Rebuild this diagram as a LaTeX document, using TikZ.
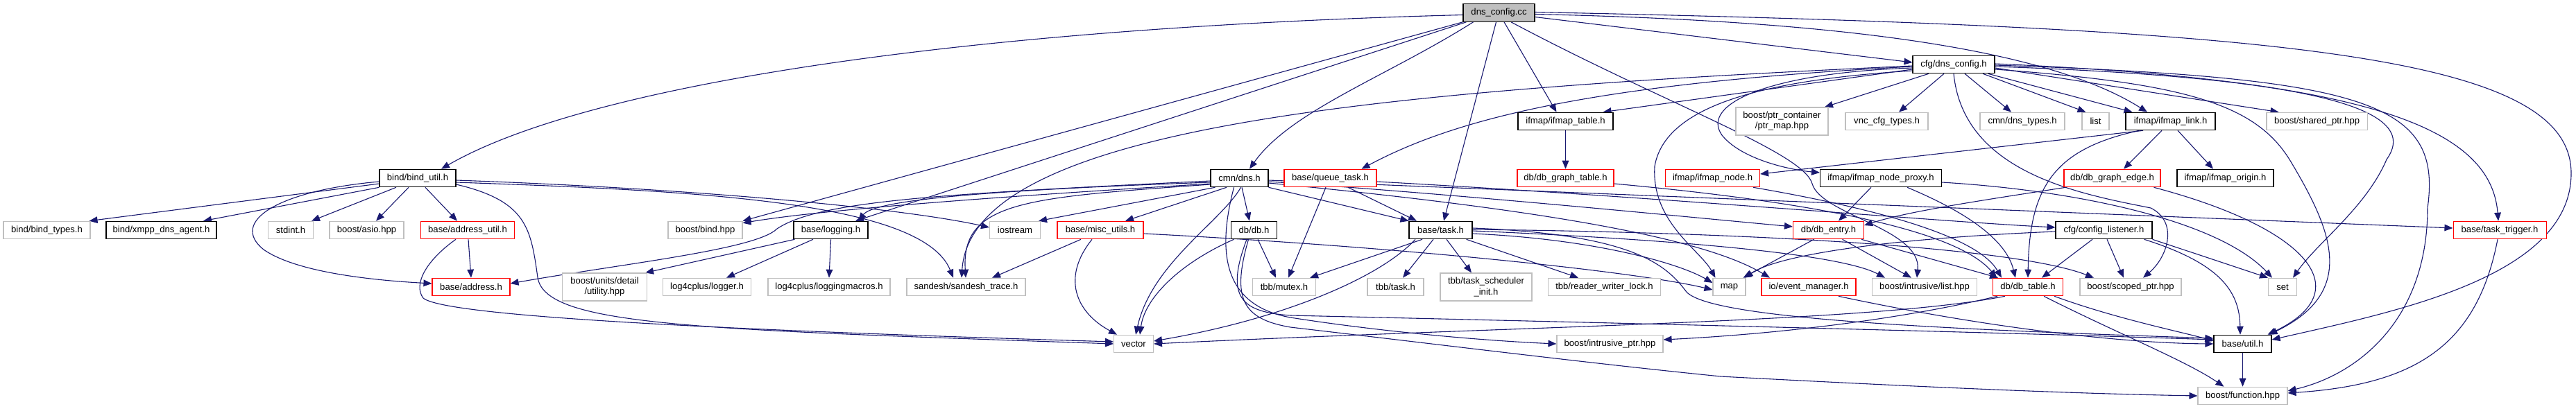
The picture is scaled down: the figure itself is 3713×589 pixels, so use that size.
\documentclass[tikz,border=0pt]{standalone}
\usepackage{fontspec}
\setmainfont{Liberation Sans}
\usetikzlibrary{arrows.meta,calc,backgrounds}
\definecolor{edgecol}{HTML}{191970}
\definecolor{graybd}{HTML}{BFBFBF}
\definecolor{rootfill}{HTML}{BFBFBF}
\tikzset{
  nd/.style={rectangle, inner sep=0pt, minimum height=12.75pt, font=\fontsize{6.55}{7.6}\selectfont, align=center, fill=white, line width=0.55pt},
  gb/.style={nd, draw=graybd},
  bb/.style={nd, draw=black},
  rb/.style={nd, draw=red},
  tw/.style={minimum height=20pt},
  edg/.style={draw=edgecol, line width=0.55pt, -{Triangle[length=6pt,width=4.8pt]}},
}
\begin{document}
\begin{tikzpicture}[x=0.5pt,y=-0.5pt]
\useasboundingbox (0,0) rectangle (3713,589);
% row 0
\node[bb, fill=rootfill, minimum width=51.5pt] (root) at (2160.5,18.5) {dns\_config.cc};
% row 1
\node[bb, minimum width=59pt] (cfgdns) at (2816,93) {cfg/dns\_config.h};
% row 2
\node[bb, minimum width=68.5pt] (ifmaptable) at (2256.5,175) {ifmap/ifmap\_table.h};
\node[gb, tw, minimum width=66.5pt] (ptrmap) at (2568.5,175) {boost/ptr\_container\\/ptr\_map.hpp};
\node[gb, minimum width=59.5pt] (vnccfg) at (2719.5,175) {vnc\_cfg\_types.h};
\node[gb, minimum width=61pt] (dnstypes) at (2915,175) {cmn/dns\_types.h};
\node[gb, minimum width=19.5pt] (list) at (3020.5,175) {list};
\node[bb, minimum width=64.5pt] (ifmaplink) at (3128.5,175) {ifmap/ifmap\_link.h};
\node[gb, minimum width=72.5pt] (sharedptr) at (3339.5,175) {boost/shared\_ptr.hpp};
% row 3
\node[bb, minimum width=55pt] (bindutil) at (602,257) {bind/bind\_util.h};
\node[bb, minimum width=41.5pt] (cmndns) at (1786.5,257) {cmn/dns.h};
\node[rb, minimum width=66.5pt] (queuetask) at (1917.5,257) {base/queue\_task.h};
\node[rb, minimum width=69.5pt] (dbgraphtable) at (2256.5,257) {db/db\_graph\_table.h};
\node[rb, minimum width=68pt] (ifmapnode) at (2468.5,257) {ifmap/ifmap\_node.h};
\node[bb, minimum width=87.5pt] (nodeproxy) at (2711,257) {ifmap/ifmap\_node\_proxy.h};
\node[rb, minimum width=69.5pt] (dbgraphedge) at (3044.5,257) {db/db\_graph\_edge.h};
\node[bb, minimum width=69.5pt] (ifmaporigin) at (3207.5,257) {ifmap/ifmap\_origin.h};
% row 4
\node[gb, minimum width=62.5pt] (bindtypes) at (67.5,332) {bind/bind\_types.h};
\node[bb, minimum width=79.5pt] (xmpp) at (232.5,332) {bind/xmpp\_dns\_agent.h};
\node[gb, minimum width=32.5pt] (stdint) at (419,332) {stdint.h};
\node[gb, minimum width=53.5pt] (asio) at (528.5,332) {boost/asio.hpp};
\node[rb, minimum width=67.5pt] (addrutil) at (674,332) {base/address\_util.h};
\node[gb, minimum width=53.5pt] (bindhpp) at (1016.5,332) {boost/bind.hpp};
\node[bb, minimum width=53.5pt] (logging) at (1197.5,332) {base/logging.h};
\node[gb, minimum width=36.5pt] (iostream) at (1463,332) {iostream};
\node[rb, minimum width=62pt] (miscutils) at (1586,332) {base/misc\_utils.h};
\node[bb, minimum width=33pt] (dbdb) at (1807.5,332) {db/db.h};
\node[bb, minimum width=45.5pt] (task) at (2076.5,332) {base/task.h};
\node[rb, minimum width=51pt] (dbentry) at (2635.5,332) {db/db\_entry.h};
\node[bb, minimum width=69.5pt] (configlistener) at (3032.5,332) {cfg/config\_listener.h};
\node[rb, minimum width=67pt] (tasktrigger) at (3603,332) {base/task\_trigger.h};
% row 5
\node[rb, minimum width=56pt] (address) at (679,414) {base/address.h};
\node[gb, tw, minimum width=61pt] (unitsutil) at (871.5,414) {boost/units/detail\\/utility.hpp};
\node[gb, minimum width=63.5pt] (logger) at (1019,414) {log4cplus/logger.h};
\node[gb, minimum width=88pt] (loggingmacros) at (1195,414) {log4cplus/loggingmacros.h};
\node[gb, minimum width=85.5pt] (sandesh) at (1392.5,414) {sandesh/sandesh\_trace.h};
\node[gb, minimum width=45.5pt] (tbbmutex) at (1851,414) {tbb/mutex.h};
\node[gb, minimum width=40.5pt] (tbbtask) at (2011.5,414) {tbb/task.h};
\node[gb, tw, minimum width=66pt] (tbbsched) at (2142,414) {tbb/task\_scheduler\\\_init.h};
\node[gb, minimum width=81pt] (rwlock) at (2312.5,414) {tbb/reader\_writer\_lock.h};
\node[gb, minimum width=23.5pt] (map) at (2492.5,414) {map};
\node[rb, minimum width=68pt] (eventmgr) at (2607,414) {io/event\_manager.h};
\node[gb, minimum width=75.5pt] (intrlist) at (2774,414) {boost/intrusive/list.hpp};
\node[rb, minimum width=50.5pt] (dbtable) at (2923,414) {db/db\_table.h};
\node[gb, minimum width=73pt] (scopedptr) at (3071,414) {boost/scoped\_ptr.hpp};
\node[gb, minimum width=20.5pt] (set) at (3290,414) {set};
% row 6
\node[gb, minimum width=28.5pt] (vector) at (1634,496) {vector};
\node[gb, minimum width=76.5pt] (intrptr) at (2320.5,496) {boost/intrusive\_ptr.hpp};
\node[bb, minimum width=41.5pt] (util) at (3232.5,496) {base/util.h};
% row 7
\node[gb, minimum width=64.5pt] (function) at (3232.5,571) {boost/function.hpp};

\begin{scope}[on background layer]
\fill[white] (0,0) rectangle (3713,589);
% dns_config.cc
\draw[edg] ($(root.west)+(0,3)$) .. controls (1400,40) and (850,120) .. ($(bindutil.north)+(34,0)$);
\draw[edg] (root.south west) -- (bindhpp.north east);
\draw[edg] ($(root.south west)+(5,0)$) -- ($(logging.north)+(35.5,0)$);
\draw[edg] ($(root.south)+(-37,0)$) .. controls (2000,110) and (1860,160) .. ($(cmndns.north)+(14.5,0)$);
\draw[edg] ($(root.south)+(-4,0)$) -- ($(task.north)+(4.5,0)$);
\draw[edg] ($(root.south)+(7.5,0)$) -- ($(ifmaptable.north)+(-13,0)$);
\draw[edg] ($(root.south)+(17.5,0)$) .. controls (2400,150) and (2600,220) .. (2612,265) .. controls (2625,310) and (2770,330) .. ($(intrlist.north)+(-11,0)$);
\draw[edg] ($(root.east)+(0,6)$) -- ($(cfgdns.west)+(0,-3)$);
\draw[edg] ($(root.east)+(0,2)$) .. controls (2650,30) and (2950,70) .. ($(ifmaplink.north)+(-33.5,0)$);
\draw[edg] ($(root.east)+(0,-1)$) .. controls (3300,40) and (3706,80) .. (3706,250) .. controls (3706,400) and (3450,450) .. ($(util.east)+(0,-6)$);
% cfg/dns_config.h
\draw[edg] ($(cfgdns.south)+(-36,0)$) -- ($(ptrmap.north)+(61.5,0)$);
\draw[edg] ($(cfgdns.south)+(-14,0)$) -- ($(vnccfg.north)+(17.5,0)$);
\draw[edg] ($(cfgdns.south)+(16,0)$) -- ($(dnstypes.north)+(-16,0)$);
\draw[edg] ($(cfgdns.south)+(42,0)$) -- ($(list.north)+(-14,0)$);
\draw[edg] ($(cfgdns.south east)+(-10,0)$) -- ($(ifmaplink.north)+(-55,0)$);
\draw[edg] ($(cfgdns.east)+(0,5)$) -- ($(sharedptr.north)+(-55,0)$);
\draw[edg] ($(cfgdns.west)+(0,7)$) -- ($(ifmaptable.north)+(54,0)$);
\draw[edg] ($(cfgdns.west)+(0,3)$) .. controls (2300,120) and (2100,170) .. ($(queuetask.north)+(45,0)$);
\draw[edg] ($(cfgdns.west)+(0,2)$) .. controls (2000,130) and (1400,180) .. ($(sandesh.north)+(-6.5,0)$);
\draw[edg] ($(cfgdns.west)+(0,5)$) .. controls (2550,105) and (2450,150) .. (2482,195) .. controls (2510,230) and (2580,245) .. ($(nodeproxy.west)+(0,-8)$);
\draw[edg] ($(cfgdns.west)+(0,9)$) .. controls (2550,115) and (2400,150) .. (2385,240) .. controls (2380,320) and (2450,360) .. ($(map.north)+(-20,0)$);
\draw[edg] (cfgdns.south) .. controls (2830,250) and (3000,280) .. (3100,300) .. controls (3140,320) and (3125,370) .. ($(scopedptr.north)+(18,0)$);
\draw[edg] ($(cfgdns.east)+(0,3)$) .. controls (3350,112) and (3490,160) .. (3440,230) .. controls (3410,300) and (3340,350) .. ($(set.north)+(15,0)$);
\draw[edg] ($(cfgdns.east)+(0,1)$) .. controls (3420,112) and (3520,150) .. (3499,300) .. controls (3499,460) and (3400,540) .. ($(function.east)+(0,-7)$);
\draw[edg] ($(cfgdns.east)+(0,-1)$) .. controls (3400,115) and (3590,180) .. ($(tasktrigger.north)+(-2,0)$);
\draw[edg] ($(cfgdns.east)+(0,7)$) .. controls (3150,120) and (3250,150) .. (3300,230) .. controls (3360,330) and (3400,420) .. ($(util.north)+(38,0)$);
% ifmap_link / ifmap_table
\draw[edg] ($(ifmaplink.south)+(-39.5,0)$) -- ($(ifmapnode.east)+(0,-6)$);
\draw[edg] ($(ifmaplink.south)+(-12.5,0)$) -- ($(dbgraphedge.north)+(16.5,0)$);
\draw[edg] ($(ifmaplink.south)+(10.5,0)$) -- ($(ifmaporigin.north)+(-17.5,0)$);
\draw[edg] ($(ifmaplink.south)+(-45,0)$) .. controls (2960,215) and (2925,270) .. (dbtable.north);
\draw[edg] (ifmaptable.south) -- (dbgraphtable.north);
\draw[edg] ($(dbgraphtable.east)+(0,8)$) .. controls (2600,290) and (2820,330) .. ($(dbtable.north)+(-45,0)$);
\draw[edg] ($(ifmapnode.south east)+(-10,0)$) .. controls (2700,300) and (2850,340) .. ($(dbtable.north)+(-38,0)$);
% node proxy, graph edge
\draw[edg] ($(nodeproxy.south)+(-14,0)$) -- ($(dbentry.north)+(14.5,0)$);
\draw[edg] ($(nodeproxy.south)+(38,0)$) .. controls (2820,300) and (2890,340) .. ($(dbtable.north)+(-18,0)$);
\draw[edg] ($(nodeproxy.east)+(0,6)$) .. controls (3000,275) and (3200,320) .. ($(set.north)+(-15,0)$);
\draw[edg] ($(dbgraphedge.south west)+(3,0)$) .. controls (2850,290) and (2750,305) .. ($(dbentry.east)+(0,-7)$);
\draw[edg] ($(dbgraphedge.south east)+(-10,0)$) .. controls (3330,330) and (3400,420) .. ($(util.north)+(36,0)$);
% db_entry
\draw[edg] ($(dbentry.south)+(-21,0)$) -- ($(map.north)+(20,0)$);
\draw[edg] ($(dbentry.south)+(20,0)$) -- ($(intrlist.north)+(-19,0)$);
\draw[edg] ($(dbentry.south east)+(-4,0)$) -- ($(dbtable.north)+(-43,0)$);
% config_listener
\draw[edg] ($(configlistener.west)+(0,2)$) .. controls (2700,345) and (2560,370) .. ($(map.north)+(22,0)$);
\draw[edg] ($(configlistener.south)+(-16.5,0)$) -- ($(dbtable.north)+(20,0)$);
\draw[edg] ($(configlistener.south)+(4.5,0)$) -- ($(scopedptr.north)+(-10,0)$);
\draw[edg] (configlistener.south east) -- ($(set.north)+(-21,0)$);
\draw[edg] ($(configlistener.south east)+(-12,0)$) .. controls (3200,380) and (3228,420) .. ($(util.north)+(-3.5,0)$);
% task_trigger, util
\draw[edg] ($(tasktrigger.south)+(-3,0)$) .. controls (3570,500) and (3480,555) .. ($(function.east)+(0,-4)$);
\draw[edg] (util.south) -- (function.north);
% db_table, event_manager
\draw[edg] ($(dbtable.south west)+(18,0)$) .. controls (2700,465) and (2200,470) .. (vector.east);
\draw[edg] ($(dbtable.south west)+(7,0)$) .. controls (2700,470) and (2500,485) .. ($(intrptr.east)+(0,-6)$);
\draw[edg] ($(dbtable.south east)+(-13,0)$) .. controls (3050,460) and (3150,480) .. ($(util.west)+(0,-4)$);
\draw[edg] ($(dbtable.south)+(23,0)$) .. controls (3050,480) and (3150,520) .. ($(function.north)+(-27,0)$);
\draw[edg] ($(eventmgr.south)+(43,0)$) .. controls (2850,470) and (3050,495) .. (util.west);
% bind_util
\draw[edg] ($(bindutil.west)+(0,8)$) -- ($(bindtypes.north east)+(-2,0)$);
\draw[edg] (bindutil.south west) -- ($(xmpp.north)+(60.5,0)$);
\draw[edg] ($(bindutil.south)+(-31,0)$) -- ($(stdint.north)+(30,0)$);
\draw[edg] ($(bindutil.south)+(-13,0)$) -- ($(asio.north)+(13.5,0)$);
\draw[edg] ($(bindutil.south)+(11,0)$) -- ($(addrutil.north)+(-15,0)$);
\draw[edg] ($(bindutil.west)+(0,5)$) .. controls (400,275) and (330,320) .. (380,360) .. controls (430,395) and (550,405) .. ($(address.west)+(0,-5)$);
\draw[edg] ($(bindutil.east)+(0,9)$) .. controls (760,290) and (765,330) .. (775,400) .. controls (785,470) and (1000,475) .. (vector.west);
\draw[edg] ($(bindutil.east)+(0,6)$) .. controls (1000,275) and (1330,290) .. ($(sandesh.north)+(-18.5,0)$);
\draw[edg] ($(bindutil.east)+(0,3)$) .. controls (1000,272) and (1300,300) .. ($(iostream.west)+(0,-4)$);
% address_util
\draw[edg] ($(addrutil.south)+(1,0)$) -- (address.north);
\draw[edg] ($(addrutil.south)+(-17,0)$) .. controls (615,375) and (595,410) .. (610,430) .. controls (640,455) and (1000,475) .. ($(vector.west)+(0,-3)$);
% logging
\draw[edg] ($(logging.south west)+(2,0)$) -- ($(unitsutil.north east)+(-3,0)$);
\draw[edg] ($(logging.south)+(-25.5,0)$) -- ($(logger.north)+(28,0)$);
\draw[edg] (logging.south) -- (loggingmacros.north);
% cmn/dns.h
\draw[edg] ($(cmndns.west)+(0,6)$) .. controls (1400,275) and (1260,290) .. ($(logging.north)+(39.5,0)$);
\draw[edg] ($(cmndns.west)+(0,8)$) .. controls (1500,280) and (1200,300) .. ($(bindhpp.north east)+(0,3)$);
\draw[edg] ($(cmndns.west)+(0,9)$) .. controls (1480,285) and (1385,290) .. ($(sandesh.north)+(-0.5,0)$);
\draw[edg] ($(cmndns.south west)+(7,0)$) -- ($(iostream.north east)+(-3,0)$);
\draw[edg] ($(cmndns.south)+(-18.5,0)$) -- ($(miscutils.north)+(36,0)$);
\draw[edg] ($(cmndns.south)+(3.5,0)$) -- ($(dbdb.north)+(-6.5,0)$);
\draw[edg] ($(cmndns.south)+(-8,0)$) .. controls (1755,360) and (1760,440) .. (1860,458) .. controls (2000,480) and (2150,492) .. (intrptr.west);
\draw[edg] ($(cmndns.south)+(2,0)$) .. controls (1760,320) and (1660,380) .. ($(vector.north)+(3,0)$);
\draw[edg] ($(cmndns.east)+(0,5)$) .. controls (2100,280) and (2400,310) .. ($(dbentry.west)+(0,-5)$);
\draw[edg] ($(cmndns.east)+(0,3)$) -- ($(tasktrigger.west)+(0,-3)$);
\draw[edg] ($(cmndns.east)+(0,7)$) .. controls (2200,300) and (2450,340) .. ($(eventmgr.north)+(-56,0)$);
\draw[edg] (cmndns.south east) -- (task.north west);
\draw[edg] ($(cmndns.west)+(0,4)$) .. controls (1350,280) and (1180,290) .. (1120,330) .. controls (1090,360) and (900,380) .. ($(address.east)+(0,-5)$);
% queue_task
\draw[edg] ($(queuetask.south)+(25.5,0)$) -- ($(task.north)+(-34.5,0)$);
\draw[edg] ($(queuetask.south)+(-6.5,0)$) -- ($(tbbmutex.north)+(6,0)$);
\draw[edg] ($(queuetask.east)+(0,5)$) .. controls (2400,285) and (2800,320) .. ($(configlistener.west)+(0,-4)$);
% misc_utils
\draw[edg] ($(miscutils.south)+(-28,0)$) -- ($(sandesh.north)+(37.5,0)$);
\draw[edg] ($(miscutils.south)+(-12,0)$) .. controls (1530,400) and (1550,450) .. ($(vector.north)+(-24,0)$);
\draw[edg] ($(miscutils.east)+(0,5)$) .. controls (2000,355) and (2350,390) .. ($(map.west)+(0,4)$);
% db/db.h
\draw[edg] ($(dbdb.south)+(-29,0)$) .. controls (1700,380) and (1650,430) .. ($(vector.north)+(9,0)$);
\draw[edg] ($(dbdb.south)+(5.5,0)$) -- ($(tbbmutex.north)+(-12,0)$);
\draw[edg] ($(dbdb.south)+(-10.5,0)$) .. controls (1765,430) and (1790,450) .. (1860,455) .. controls (2300,465) and (2900,480) .. ($(util.west)+(0,-6)$);
\draw[edg] ($(dbdb.south)+(-8,0)$) .. controls (1775,430) and (1790,460) .. (1860,472) .. controls (2100,500) and (2300,525) .. (2480,543) .. controls (2800,560) and (3000,568) .. (function.west);
% base/task.h
\draw[edg] ($(task.south)+(-26.5,0)$) -- ($(tbbmutex.north east)+(-9,0)$);
\draw[edg] ($(task.south)+(-10.5,0)$) -- ($(tbbtask.north)+(10.5,0)$);
\draw[edg] ($(task.south)+(8.5,0)$) -- ($(tbbsched.north)+(-21,0)$);
\draw[edg] ($(task.south east)+(-9,0)$) -- ($(rwlock.north)+(-37.5,0)$);
\draw[edg] ($(task.south)+(-36.5,0)$) .. controls (1990,400) and (1850,460) .. ($(vector.east)+(0,-4)$);
\draw[edg] ($(task.east)+(0,5)$) .. controls (2300,345) and (2420,380) .. ($(map.west)+(0,-6)$);
\draw[edg] ($(task.east)+(0,1)$) .. controls (2400,345) and (2650,365) .. ($(intrlist.north)+(-57,0)$);
\draw[edg] ($(task.east)+(0,-1)$) .. controls (2500,335) and (2900,355) .. ($(scopedptr.north)+(-53,0)$);
\draw[edg] ($(task.east)+(0,-3)$) .. controls (2350,338) and (2400,380) .. (2430,420) .. controls (2460,460) and (2800,475) .. ($(util.west)+(0,-8)$);
\end{scope}
\end{tikzpicture}
\end{document}
